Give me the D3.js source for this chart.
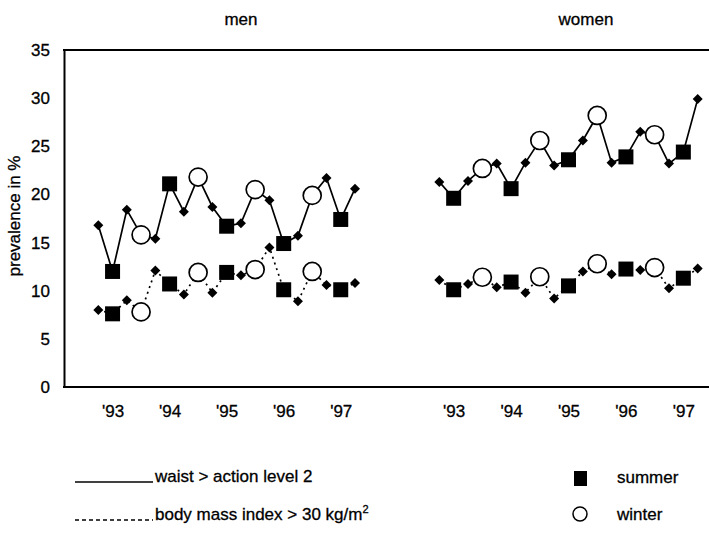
<!DOCTYPE html>
<html>
<head>
<meta charset="utf-8">
<script src="https://cdn.jsdelivr.net/npm/d3@7"></script>
<style>
    body { margin: 0; background: #fff; }
    svg { display: block; font-family: "Liberation Sans", Arial, Helvetica, sans-serif; }
    .axis text { font-size: 17px; fill: #000; stroke: #000; stroke-width: 0.3; }
    .axis path, .axis line { stroke: #000; }
    .frame { stroke: #000; stroke-width: 2; }
    .waist-line { fill: none; stroke: #000; stroke-width: 1.7; }
    .bmi-line { fill: none; stroke: #000; stroke-width: 1.7; stroke-dasharray: 2,4; }
    .label { font-size: 17px; fill: #000; stroke: #000; stroke-width: 0.3; }
</style>
</head>
<body>
<div id="chart"></div>
<script>
// Prevalence of large waist and obesity, men and women, 1993-1997
// Each survey round is a quarter of a year; summer rounds are squares,
// winter rounds are circles and the rounds in between are diamonds.

let width = 709;
let height = 537;

// Survey rounds (decimal year) and the season of each round
let survey = [1992.75, 1993, 1993.25, 1993.5, 1993.75, 1994, 1994.25, 1994.5, 1994.75,
    1995, 1995.25, 1995.5, 1995.75, 1996, 1996.25, 1996.5, 1996.75, 1997, 1997.25];
let season = ["other", "summer", "other", "winter", "other", "summer", "other", "winter", "other",
    "summer", "other", "winter", "other", "summer", "other", "winter", "other", "summer", "other"];

// Prevalence in % (waist > action level 2, body mass index > 30)
let menWaist = [16.8, 12.0, 18.4, 15.8, 15.4, 21.1, 18.2, 21.8, 18.7,
    16.7, 17.0, 20.5, 19.4, 14.9, 15.7, 19.9, 21.7, 17.4, 20.6];
let menBmi = [8.0, 7.6, 9.0, 7.8, 12.1, 10.7, 9.6, 11.9, 9.8,
    11.9, 11.6, 12.2, 14.5, 10.1, 8.9, 12.0, 10.6, 10.1, 10.8];
let womenWaist = [21.3, 19.6, 21.4, 22.7, 23.2, 20.6, 23.3, 25.6, 23.0,
    23.6, 25.6, 28.2, 23.3, 23.9, 26.5, 26.2, 23.2, 24.4, 29.9];
let womenBmi = [11.1, 10.1, 10.7, 11.4, 10.35, 10.9, 9.8, 11.45, 9.2,
    10.5, 12.0, 12.8, 11.7, 12.25, 12.15, 12.4, 10.25, 11.3, 12.3];

let yTicks = [0, 5, 10, 15, 20, 25, 30, 35];
let yearTicks = [1993, 1994, 1995, 1996, 1997];

let svg = d3.select("#chart")
    .append("svg")
    .attr("width", width)
    .attr("height", height);

// Plot area edges
let plotLeft = 64, plotTop = 50, plotBottom = 387;

let yScale = d3.scaleLinear()
    .domain([0, 35])
    .range([plotBottom, plotTop]);

// one x scale per panel
let panels = [
    { title: "men", waist: menWaist, bmi: menBmi, range: [98.3, 355], titleX: 241 },
    { title: "women", waist: womenWaist, bmi: womenBmi, range: [439.3, 697.7], titleX: 586 }
];

// y axis
let yAxis = d3.axisLeft()
    .scale(yScale)
    .tickValues(yTicks)
    .tickSize(0)
    .tickSizeOuter(0)
    .tickPadding(14);

svg.append("g")
    .attr("class", "axis")
    .attr("transform", "translate(" + plotLeft + ", 0)")
    .call(yAxis)
    .call(function (g) { g.select(".domain").attr("stroke-width", 2); });

// top and bottom frame lines
svg.append("line")
    .attr("class", "frame")
    .attr("x1", plotLeft - 1).attr("x2", width)
    .attr("y1", yScale(35)).attr("y2", yScale(35));

svg.append("line")
    .attr("class", "frame")
    .attr("x1", plotLeft - 1).attr("x2", width)
    .attr("y1", yScale(0)).attr("y2", yScale(0));

svg.append("text")
    .attr("class", "label")
    .attr("transform", "translate(20, 216) rotate(-90)")
    .attr("text-anchor", "middle")
    .text("prevalence in %");

let diamond = d3.symbol().type(d3.symbolSquare).size(50);
let square = d3.symbol().type(d3.symbolSquare).size(225);

panels.forEach(function (p) {
    let xScale = d3.scaleLinear()
        .domain([survey[0], survey[survey.length - 1]])
        .range(p.range);

    let xAxis = d3.axisBottom()
        .scale(xScale)
        .tickValues(yearTicks)
        .tickSize(0)
        .tickFormat(function (d) { return "'" + String(d).slice(2); });

    svg.append("g")
        .attr("class", "axis")
        .attr("transform", "translate(0, " + plotBottom + ")")
        .call(xAxis)
        .call(function (g) {
            g.select(".domain").remove();
            g.selectAll("text").attr("dy", null).attr("y", 30);
        });

    svg.append("text")
        .attr("class", "label")
        .attr("x", p.titleX)
        .attr("y", 25)
        .attr("text-anchor", "middle")
        .text(p.title);

    let line = d3.line()
        .x(function (d) { return xScale(d.t); })
        .y(function (d) { return yScale(d.v); });

    [["waist-line", p.waist], ["bmi-line", p.bmi]].forEach(function (s) {
        let data = survey.map(function (t, i) {
            return { t: t, v: s[1][i], season: season[i] };
        });

        svg.append("path")
            .datum(data)
            .attr("class", s[0])
            .attr("d", line);

        let g = svg.append("g");

        g.selectAll("path.diamond")
            .data(data.filter(function (d) { return d.season === "other"; }))
            .enter().append("path")
            .attr("class", "diamond")
            .attr("d", diamond)
            .attr("fill", "#000")
            .attr("transform", function (d) {
                return "translate(" + xScale(d.t) + "," + yScale(d.v) + ") rotate(45)";
            });

        g.selectAll("path.summer")
            .data(data.filter(function (d) { return d.season === "summer"; }))
            .enter().append("path")
            .attr("class", "summer")
            .attr("d", square)
            .attr("fill", "#000")
            .attr("transform", function (d) {
                return "translate(" + xScale(d.t) + "," + yScale(d.v) + ")";
            });

        g.selectAll("circle")
            .data(data.filter(function (d) { return d.season === "winter"; }))
            .enter().append("circle")
            .attr("cx", function (d) { return xScale(d.t); })
            .attr("cy", function (d) { return yScale(d.v); })
            .attr("r", 9)
            .attr("fill", "#fff")
            .attr("stroke", "#000")
            .attr("stroke-width", 1.7);
    });
});

// Legend
svg.append("line")
    .attr("x1", 75).attr("x2", 153)
    .attr("y1", 482).attr("y2", 482)
    .attr("stroke", "#000")
    .attr("stroke-width", 1.5);

svg.append("text")
    .attr("class", "label")
    .attr("x", 155)
    .attr("y", 482)
    .text("waist > action level 2");

svg.append("line")
    .attr("x1", 75).attr("x2", 153)
    .attr("y1", 520).attr("y2", 520)
    .attr("stroke", "#000")
    .attr("stroke-width", 1.5)
    .attr("stroke-dasharray", "4,3");

let bmiLabel = svg.append("text")
    .attr("class", "label")
    .attr("x", 155)
    .attr("y", 520)
    .text("body mass index > 30 kg/m");

bmiLabel.append("tspan")
    .attr("dy", -7)
    .attr("font-size", 11)
    .text("2");

svg.append("rect")
    .attr("x", 574).attr("y", 471)
    .attr("width", 13).attr("height", 15)
    .attr("fill", "#000");

svg.append("text")
    .attr("class", "label")
    .attr("x", 617)
    .attr("y", 483)
    .text("summer");

svg.append("circle")
    .attr("cx", 580).attr("cy", 514)
    .attr("r", 7)
    .attr("fill", "#fff")
    .attr("stroke", "#000")
    .attr("stroke-width", 1.5);

svg.append("text")
    .attr("class", "label")
    .attr("x", 617)
    .attr("y", 520)
    .text("winter");
</script>
</body>
</html>
